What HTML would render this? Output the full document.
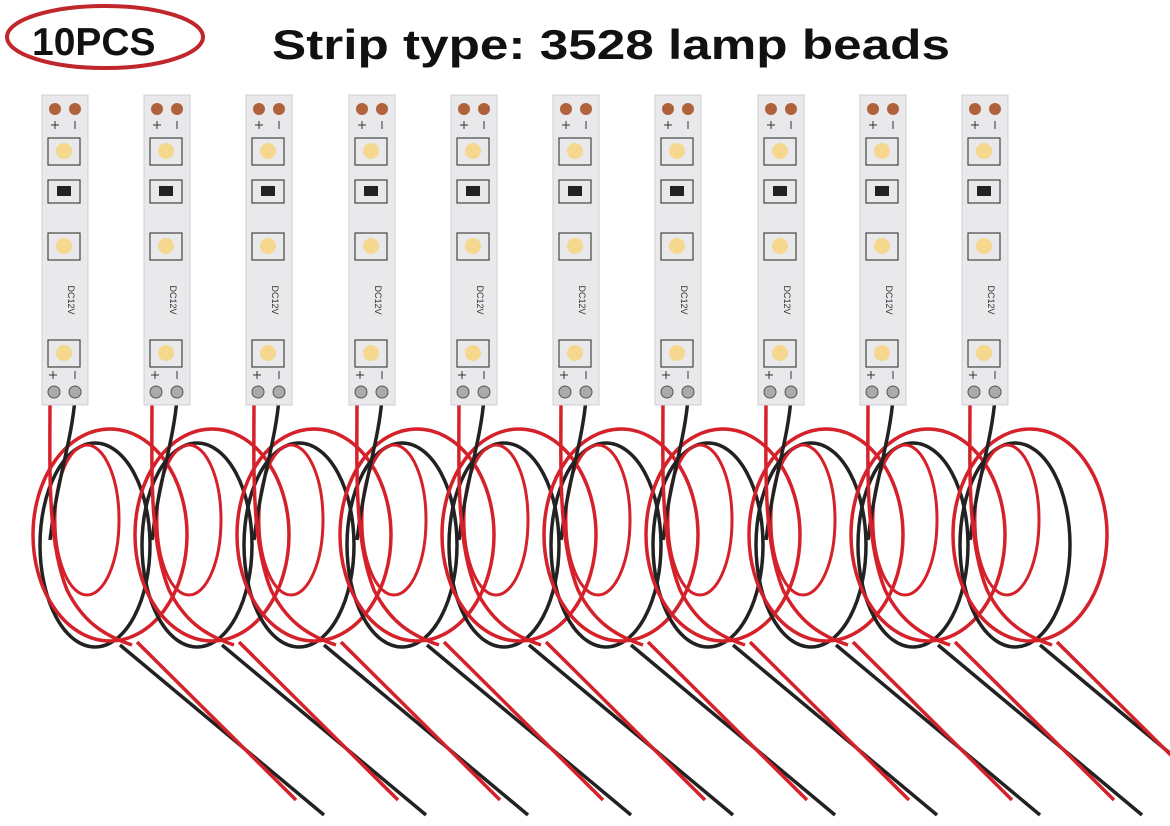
<!DOCTYPE html>
<html><head><meta charset="utf-8"><style>
html,body{margin:0;padding:0;background:#fff;}
svg{display:block;}
text{font-family:"Liberation Sans",Arial,sans-serif;}
</style></head><body>
<svg width="1170" height="826" viewBox="0 0 1170 826" xmlns="http://www.w3.org/2000/svg">
<rect width="1170" height="826" fill="#fff"/>
<ellipse cx="105" cy="37" rx="98" ry="31" fill="none" stroke="#c0272d" stroke-width="4"/>
<text x="32" y="55" font-size="39" font-weight="bold" fill="#111">10PCS</text>
<text x="272" y="59" font-size="42" font-weight="bold" fill="#111" textLength="678" lengthAdjust="spacingAndGlyphs">Strip type: 3528 lamp beads</text>

<defs>
<g id="wires" fill="none" stroke-width="3.5">
<ellipse cx="53" cy="545" rx="55" ry="102" stroke="#222"/>
<ellipse cx="45" cy="520" rx="32" ry="75" stroke="#d4212a" stroke-width="3"/>
<ellipse cx="68" cy="535" rx="77" ry="106" stroke="#d4212a"/>
<path d="M33 398 C30 440 15 480 8 540" stroke="#222"/>
<path d="M8 398 C8 470 5 540 25 590 C40 620 60 635 90 645" stroke="#d4212a"/>
<path d="M78 645 L282 815" stroke="#222"/>
<path d="M95 642 L254 800" stroke="#d4212a"/>
</g>
<g id="strip">
<rect x="0" y="0" width="46" height="310" fill="#e9e9ec" stroke="#cfcfd4"/>
<circle cx="13" cy="14" r="6" fill="#b0623a"/><circle cx="33" cy="14" r="6" fill="#b0623a"/>
<path d="M9 30h8M13 26v8M33 26v8" stroke="#333" stroke-width="1"/>
<rect x="6" y="43" width="32" height="27" fill="none" stroke="#444" stroke-width="1.2"/>
<circle cx="22" cy="56" r="8" fill="#f5d88e"/>
<rect x="6" y="85" width="32" height="23" fill="none" stroke="#444" stroke-width="1.2"/>
<rect x="15" y="91" width="14" height="10" fill="#222"/>
<rect x="6" y="138" width="32" height="27" fill="none" stroke="#444" stroke-width="1.2"/>
<circle cx="22" cy="151" r="8" fill="#f5d88e"/>
<rect x="6" y="245" width="32" height="27" fill="none" stroke="#444" stroke-width="1.2"/>
<circle cx="22" cy="258" r="8" fill="#f5d88e"/>
<path d="M7 280h8M11 276v8M33 276v8" stroke="#333" stroke-width="1"/>
<circle cx="12" cy="297" r="6" fill="#aaa" stroke="#555"/>
<circle cx="33" cy="297" r="6" fill="#aaa" stroke="#555"/>
</g>
</defs>

<g transform="translate(42,0)"><use href="#wires"/></g>
<g transform="translate(144,0)"><use href="#wires"/></g>
<g transform="translate(246,0)"><use href="#wires"/></g>
<g transform="translate(349,0)"><use href="#wires"/></g>
<g transform="translate(451,0)"><use href="#wires"/></g>
<g transform="translate(553,0)"><use href="#wires"/></g>
<g transform="translate(655,0)"><use href="#wires"/></g>
<g transform="translate(758,0)"><use href="#wires"/></g>
<g transform="translate(860,0)"><use href="#wires"/></g>
<g transform="translate(962,0)"><use href="#wires"/></g>

<g transform="translate(42,95)"><use href="#strip"/><text transform="translate(26,205) rotate(90)" font-size="9" fill="#333" text-anchor="middle">DC12V</text></g>
<g transform="translate(144,95)"><use href="#strip"/><text transform="translate(26,205) rotate(90)" font-size="9" fill="#333" text-anchor="middle">DC12V</text></g>
<g transform="translate(246,95)"><use href="#strip"/><text transform="translate(26,205) rotate(90)" font-size="9" fill="#333" text-anchor="middle">DC12V</text></g>
<g transform="translate(349,95)"><use href="#strip"/><text transform="translate(26,205) rotate(90)" font-size="9" fill="#333" text-anchor="middle">DC12V</text></g>
<g transform="translate(451,95)"><use href="#strip"/><text transform="translate(26,205) rotate(90)" font-size="9" fill="#333" text-anchor="middle">DC12V</text></g>
<g transform="translate(553,95)"><use href="#strip"/><text transform="translate(26,205) rotate(90)" font-size="9" fill="#333" text-anchor="middle">DC12V</text></g>
<g transform="translate(655,95)"><use href="#strip"/><text transform="translate(26,205) rotate(90)" font-size="9" fill="#333" text-anchor="middle">DC12V</text></g>
<g transform="translate(758,95)"><use href="#strip"/><text transform="translate(26,205) rotate(90)" font-size="9" fill="#333" text-anchor="middle">DC12V</text></g>
<g transform="translate(860,95)"><use href="#strip"/><text transform="translate(26,205) rotate(90)" font-size="9" fill="#333" text-anchor="middle">DC12V</text></g>
<g transform="translate(962,95)"><use href="#strip"/><text transform="translate(26,205) rotate(90)" font-size="9" fill="#333" text-anchor="middle">DC12V</text></g>
</svg>
</body></html>
